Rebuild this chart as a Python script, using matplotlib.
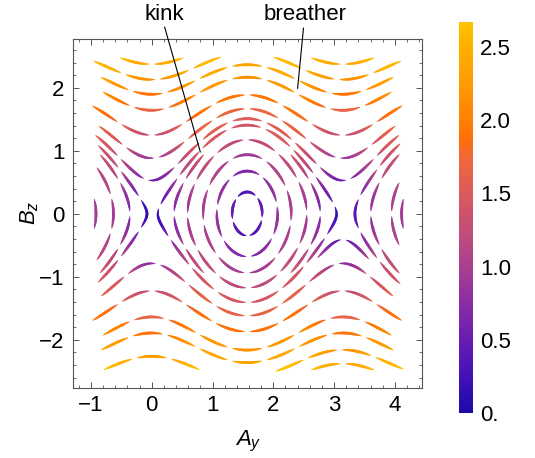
import numpy as np
import matplotlib
matplotlib.use("Agg")
import matplotlib.pyplot as plt
import matplotlib.cm as cm
from matplotlib.collections import LineCollection
from matplotlib.colors import LinearSegmentedColormap, Normalize
from matplotlib.ticker import MultipleLocator
import contourpy

plt.rcParams['font.family'] = ['Liberation Sans', 'DejaVu Sans']
plt.rcParams['mathtext.fontset'] = 'custom'
plt.rcParams['mathtext.rm'] = 'Liberation Sans'
plt.rcParams['mathtext.it'] = 'Liberation Sans:italic'

# streamlines = level sets of H = Bz^2/2 - sin^2(Ay)
upper_levels = [2.82, 2.27, 1.80, 1.35, 0.78, 0.39, 0.14]
lower_levels = [1.79, 1.34, 0.75, 0.31]
lower_left_levels = [2.56]
lower_right_levels = [2.83, 2.33]
lower_xpoint_levels = [0.084]
eye_levels = [-0.01, -0.31, -0.56, -0.77, -0.94]
eye_partial_levels = [-0.13]
left_arc_levels = [-0.006, -0.124, -0.347, -0.63]
right_arc_levels = [-0.04, -0.20, -0.52, -0.68]

# colour scale (field magnitude)
cbar_ticks = [0, 0.5, 1.0, 1.5, 2.0, 2.5]
cbar_labels = ["0.", "0.5", "1.0", "1.5", "2.0", "2.5"]
vmax = 2.67

cmap = LinearSegmentedColormap.from_list("sunset", [
    (0.00, "#1a0aa8"), (0.10, "#4512b8"), (0.19, "#6a1eb2"),
    (0.28, "#8a2ca6"), (0.375, "#a8408f"), (0.47, "#c24e78"),
    (0.56, "#da5a5e"), (0.655, "#f06838"), (0.70, "#ff6e0a"),
    (0.75, "#ff8000"), (0.84, "#ff9a00"), (0.94, "#ffb000"),
    (1.00, "#ffc200")])
norm = Normalize(0, vmax)

FS = 16

fig = plt.figure(figsize=(5.35, 4.58), dpi=100)
ax = fig.add_axes([72.7/535, 1-388.3/458, 349/535, 349/458])
ax.set_xlim(-1.3, np.pi + 1.3)
ax.set_ylim(-2.77, 2.77)

# grid for the level curves
A = np.linspace(-1.0, np.pi + 1.0, 1400)
B = np.linspace(-2.5, 2.5, 1400)
AA, BB = np.meshgrid(A, B)
H = BB**2 / 2 - np.sin(AA)**2
gen = contourpy.contour_generator(A, B, H, line_type="Separate")


def speed(a, b):
    return np.hypot(b, np.sin(2 * a))


def pieces(level, region, a0=-9.0, a1=9.0):
    out = []
    for ln in gen.lines(level):
        if len(ln) < 3:
            continue
        mx, my = ln[:, 0].mean(), ln[:, 1].mean()
        if region == 'up' and my <= 0:
            continue
        if region == 'down' and my >= 0:
            continue
        if region == 'eye' and not (0 < mx < np.pi):
            continue
        if region == 'left' and mx >= 0:
            continue
        if region == 'right' and mx <= np.pi:
            continue
        closed = np.allclose(ln[0], ln[-1])
        keep = (ln[:, 0] >= a0) & (ln[:, 0] <= a1)
        if keep.all():
            out.append((ln, closed))
            continue
        if closed:
            k = np.argmin(keep)
            ln = np.roll(ln[:-1], -k, axis=0)
            keep = np.roll(keep[:-1], -k)
        idx = np.flatnonzero(np.diff(np.r_[0, keep.astype(int), 0]))
        for s, e in zip(idx[::2], idx[1::2]):
            if e - s > 2:
                out.append((ln[s:e], False))
    return out


def draw_dashed(ln, closed, dash=29.0, gap=6.0, wmax=1.95, nsub=16):
    pix = ax.transData.transform(ln)
    s = np.r_[0, np.cumsum(np.hypot(*np.diff(pix, axis=0).T))]
    L = s[-1]
    per = dash + gap
    if closed:
        n = max(5, int(round(L / per)))
        per = L / n
        d = per * dash / (dash + gap)
        starts = np.arange(n) * per
    else:
        n = int(np.floor((L + gap) / per))
        if n == 0:
            if L < 8:
                return
            n, d, starts = 1, L, np.array([0.0])
        else:
            d = dash
            off = (L - (n * per - gap)) / 2
            starts = off + np.arange(n) * per
    segs, cols, lws = [], [], []
    for s0 in starts:
        ss = np.linspace(s0, s0 + d, nsub + 1)
        x = np.interp(ss, s, ln[:, 0])
        y = np.interp(ss, s, ln[:, 1])
        for i in range(nsub):
            t = (i + 0.5) / nsub
            segs.append([[x[i], y[i]], [x[i+1], y[i+1]]])
            xm, ym = (x[i] + x[i+1]) / 2, (y[i] + y[i+1]) / 2
            cols.append(cmap(norm(speed(xm, ym))))
            lws.append(wmax * np.sin(np.pi * t)**0.5 + 0.1)
    lc = LineCollection(segs, colors=cols, linewidths=lws, capstyle='round')
    ax.add_collection(lc)


streams = []
for h in upper_levels:
    streams += pieces(h, 'up')
for h in lower_levels:
    streams += pieces(h, 'down')
for h in lower_left_levels:
    streams += pieces(h, 'down', a1=np.pi / 2)
for h in lower_right_levels:
    streams += pieces(h, 'down', a0=np.pi / 2)
for h in lower_xpoint_levels:
    streams += pieces(h, 'down', a0=2.6, a1=3.7)
for h in eye_levels:
    streams += pieces(h, 'eye')
for h in eye_partial_levels:
    streams += pieces(h, 'eye', a1=0.9)
    streams += pieces(h, 'eye', a0=2.25)
for h in left_arc_levels:
    streams += pieces(h, 'left')
for h in right_arc_levels:
    streams += pieces(h, 'right')

for ln, closed in streams:
    draw_dashed(ln, closed)

# frame and ticks, Mathematica-like
for sp in ax.spines.values():
    sp.set_color("#555555")
    sp.set_linewidth(0.8)
ax.xaxis.set_major_locator(MultipleLocator(1))
ax.xaxis.set_minor_locator(MultipleLocator(0.2))
ax.yaxis.set_major_locator(MultipleLocator(1))
ax.yaxis.set_minor_locator(MultipleLocator(0.2))
ax.tick_params(which='both', direction='in', top=True, right=True,
               color="#555555", labelsize=FS)
ax.tick_params(which='major', length=4.5, width=0.7)
ax.tick_params(which='minor', length=2.5, width=0.6)
ax.tick_params(axis='x', pad=4.5)
ax.tick_params(axis='y', pad=6)
ax.set_xticks(range(-1, 5))
ax.set_xticklabels(["\u22121", "0", "1", "2", "3", "4"])
ax.set_yticks(range(-2, 3))
ax.set_yticklabels(["\u22122", "\u22121", "0", "1", "2"])

fig.text(248/535, 1-441/458, "$A_y$", ha='center', va='center', fontsize=FS)
fig.text(30/535, 1-213/458, "$B_z$", ha='center', va='center',
         fontsize=FS, rotation=90)

# annotations
fig.text(164.6/535, 1-14/458, "kink", ha='center', va='center', fontsize=FS)
fig.text(305/535, 1-14/458, "breather", ha='center', va='center', fontsize=FS)
ax.annotate('', xy=(0.80, 0.98), xycoords='data',
            xytext=(164.6/535, 1-27/458), textcoords='figure fraction',
            arrowprops=dict(arrowstyle='-', lw=0.8, color='black',
                            shrinkA=0, shrinkB=0), annotation_clip=False)
ax.annotate('', xy=(2.40, 1.99), xycoords='data',
            xytext=(303.5/535, 1-28/458), textcoords='figure fraction',
            arrowprops=dict(arrowstyle='-', lw=0.8, color='black',
                            shrinkA=0, shrinkB=0), annotation_clip=False)

# colour bar
cax = fig.add_axes([459/535, 1-413.3/458, 14/535, 391.3/458])
sm = cm.ScalarMappable(norm=norm, cmap=cmap)
cb = fig.colorbar(sm, cax=cax)
cb.outline.set_visible(False)
cb.set_ticks(cbar_ticks)
cb.set_ticklabels(cbar_labels)
cax.tick_params(length=0, labelsize=FS, pad=5)

fig.savefig("out.png", dpi=100)
